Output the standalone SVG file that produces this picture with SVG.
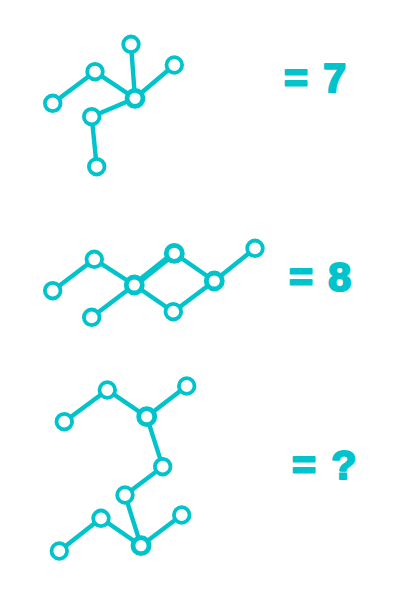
<svg xmlns="http://www.w3.org/2000/svg" width="420" height="594" viewBox="0 0 420 594">
<style>
.e{stroke:#00c3cb;stroke-width:4.4;stroke-linecap:round;fill:none}
.n{fill:#fff;stroke:#00c3cb;stroke-width:3.8}
.h{fill:#fff;stroke:#00c3cb;stroke-width:4.8}
.t{font-family:"Liberation Sans",Arial,sans-serif;font-weight:bold;font-size:41px;fill:#00c3cb;stroke:#00c3cb;stroke-width:2.2;stroke-linejoin:round;word-spacing:4px}
</style>
<rect width="420" height="594" fill="#fff"/>
<g id="connectors">
<path class="e" d="M52.7 103.3L95 71.7L135 98.3M131 44.3L135 98.3L174.3 65M135 98.3L91.7 116.7L96.7 166.7"/>
<path class="e" d="M52.7 290.7L94.3 259.3L134.3 285M91.7 317.3L134.3 285L173.3 311.7L214.3 281L255 248.3M174.3 253.3L214.3 281"/>
<path class="e" style="stroke-width:6.5" d="M134.3 285L174.3 253.3"/>
<path class="e" d="M64.3 421.7L107.3 390L146.7 416.7L186.7 386M146.7 416.7L162.7 466.7L125 495L141 545.7L181.7 515M59.3 551L101 518.3L141 545.7"/>
</g>
<g id="g1">
<circle id="n1a" class="n" cx="52.7" cy="103.3" r="7.8"/>
<circle id="n1b" class="n" cx="95" cy="71.7" r="7.8"/>
<circle id="n1c" class="n" cx="131" cy="44.3" r="7.8"/>
<circle id="n1d" class="h" cx="135" cy="98.3" r="8"/>
<circle id="n1e" class="n" cx="174.3" cy="65" r="7.8"/>
<circle id="n1f" class="n" cx="91.7" cy="116.7" r="7.8"/>
<circle id="n1g" class="n" cx="96.7" cy="166.7" r="7.8"/>
<text class="t" x="284" y="92">= 7</text>
</g>
<g id="g2">
<circle id="n2a" class="n" cx="52.7" cy="290.7" r="7.8"/>
<circle id="n2b" class="n" cx="94.3" cy="259.3" r="7.8"/>
<circle id="n2c" class="h" cx="134.3" cy="285" r="8"/>
<circle id="n2d" class="n" cx="91.7" cy="317.3" r="7.8"/>
<circle id="n2e" class="h" cx="174.3" cy="253.3" r="8"/>
<circle id="n2f" class="n" cx="173.3" cy="311.7" r="7.8"/>
<circle id="n2g" class="h" cx="214.3" cy="281" r="8"/>
<circle id="n2h" class="n" cx="255" cy="248.3" r="7.8"/>
<text class="t" x="289" y="291">= 8</text>
</g>
<g id="g3">
<circle id="n3a" class="n" cx="64.3" cy="421.7" r="7.8"/>
<circle id="n3b" class="n" cx="107.3" cy="390" r="7.8"/>
<circle id="n3c" class="h" cx="146.7" cy="416.7" r="8"/>
<circle id="n3d" class="n" cx="186.7" cy="386" r="7.8"/>
<circle id="n3e" class="n" cx="162.7" cy="466.7" r="7.8"/>
<circle id="n3f" class="n" cx="125" cy="495" r="7.8"/>
<circle id="n3g" class="n" cx="101" cy="518.3" r="7.8"/>
<circle id="n3h" class="n" cx="59.3" cy="551" r="7.8"/>
<circle id="n3i" class="h" cx="141" cy="545.7" r="8"/>
<circle id="n3j" class="n" cx="181.7" cy="515" r="7.8"/>
<text class="t" x="292" y="479">= ?</text>
</g>
</svg>
